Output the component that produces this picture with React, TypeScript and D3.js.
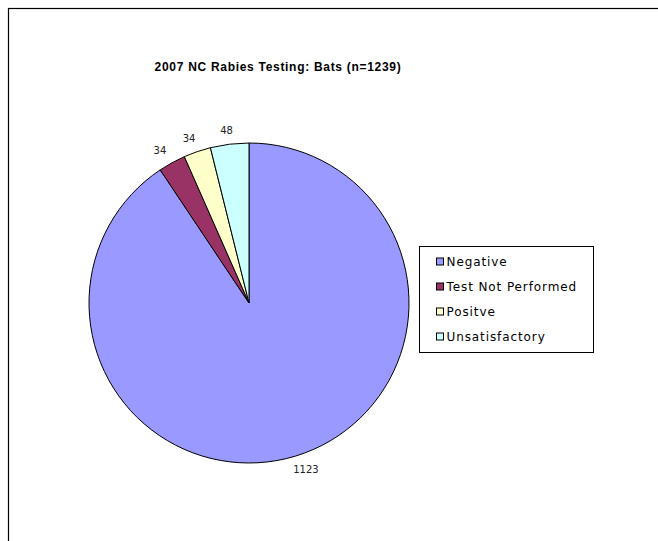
import { useEffect, useRef } from 'react';
import * as d3 from 'd3';

const categories = ['Negative', 'Test Not Performed', 'Positve', 'Unsatisfactory'];
const counts = [1123, 34, 34, 48];
const colors = ['#9999FF', '#993366', '#FFFFCC', '#CCFFFF'];
const title = '2007 NC Rabies Testing: Bats (n=1239)';

export default function App() {
  const svgRef = useRef<SVGSVGElement>(null);
  const width = 658;
  const height = 541;

  useEffect(() => {
    if (!svgRef.current) return;
    const svg = d3.select(svgRef.current);
    svg.selectAll('*').remove();

    svg.append('rect')
      .attr('width', width)
      .attr('height', height)
      .attr('fill', '#fff');

    // chart frame (runs off the right and bottom)
    svg.append('rect')
      .attr('x', 8.5)
      .attr('y', 8.5)
      .attr('width', 800)
      .attr('height', 800)
      .attr('fill', 'none')
      .attr('stroke', '#000')
      .attr('stroke-width', 1.2);

    svg.append('text')
      .attr('x', 278)
      .attr('y', 71)
      .attr('text-anchor', 'middle')
      .style('font-family', '"Liberation Sans", Arial, sans-serif')
      .style('font-size', '12px')
      .style('font-weight', 'bold')
      .style('letter-spacing', '0.7px')
      .text(title);

    const cx = 249;
    const cy = 303;
    const radius = 160;

    const data = categories.map((c, i) => ({ name: c, value: counts[i], color: colors[i] }));
    const pie = d3.pie<typeof data[0]>().value(d => d.value).sort(null);
    const arcs = pie(data);
    const arc = d3.arc<d3.PieArcDatum<typeof data[0]>>().innerRadius(0).outerRadius(radius);

    const g = svg.append('g').attr('transform', `translate(${cx},${cy})`);

    g.selectAll('path')
      .data(arcs)
      .join('path')
      .attr('d', arc)
      .attr('fill', d => d.data.color)
      .attr('stroke', '#000')
      .attr('stroke-width', 1)
      .attr('stroke-linejoin', 'round');

    // value labels outside each slice
    const labelR = radius + 13.5;
    g.selectAll('.lbl')
      .data(arcs)
      .join('text')
      .attr('class', 'lbl')
      .each(function (d) {
        const a = (d.startAngle + d.endAngle) / 2;
        const s = Math.sin(a);
        const c = Math.cos(a);
        const txt = String(d.data.value);
        const w = txt.length * 6.4;
        const px = labelR * s + s * w * 0.9;
        const py = -labelR * c + 3.5;
        d3.select(this)
          .attr('x', px)
          .attr('y', py)
          .attr('text-anchor', 'middle')
          .text(txt);
      })
      .style('font-family', '"DejaVu Sans", Verdana, sans-serif')
      .style('font-size', '10px')
      .style('fill', '#222');

    // legend
    const legend = svg.append('g').attr('transform', 'translate(419.5,246.5)');
    legend.append('rect')
      .attr('width', 174)
      .attr('height', 106)
      .attr('fill', '#fff')
      .attr('stroke', '#000')
      .attr('stroke-width', 1);

    const ly = d3.scalePoint<string>()
      .domain(categories)
      .range([15, 90]);

    const items = legend.selectAll('.item')
      .data(data)
      .join('g')
      .attr('class', 'item')
      .attr('transform', d => `translate(0,${ly(d.name)})`);

    items.append('rect')
      .attr('x', 17)
      .attr('y', -3.5)
      .attr('width', 7)
      .attr('height', 7)
      .attr('fill', d => d.color)
      .attr('stroke', '#000')
      .attr('stroke-width', 1);

    items.append('text')
      .attr('x', 27)
      .attr('y', 4.5)
      .style('font-family', '"DejaVu Sans", Verdana, sans-serif')
      .style('font-size', '12px')
      .style('letter-spacing', '0.9px')
      .style('fill', '#000')
      .text(d => d.name);
  }, []);

  return (
    <svg
      ref={svgRef}
      width={width}
      height={height}
      style={{ position: 'absolute', left: 0, top: 0, display: 'block' }}
    />
  );
}
